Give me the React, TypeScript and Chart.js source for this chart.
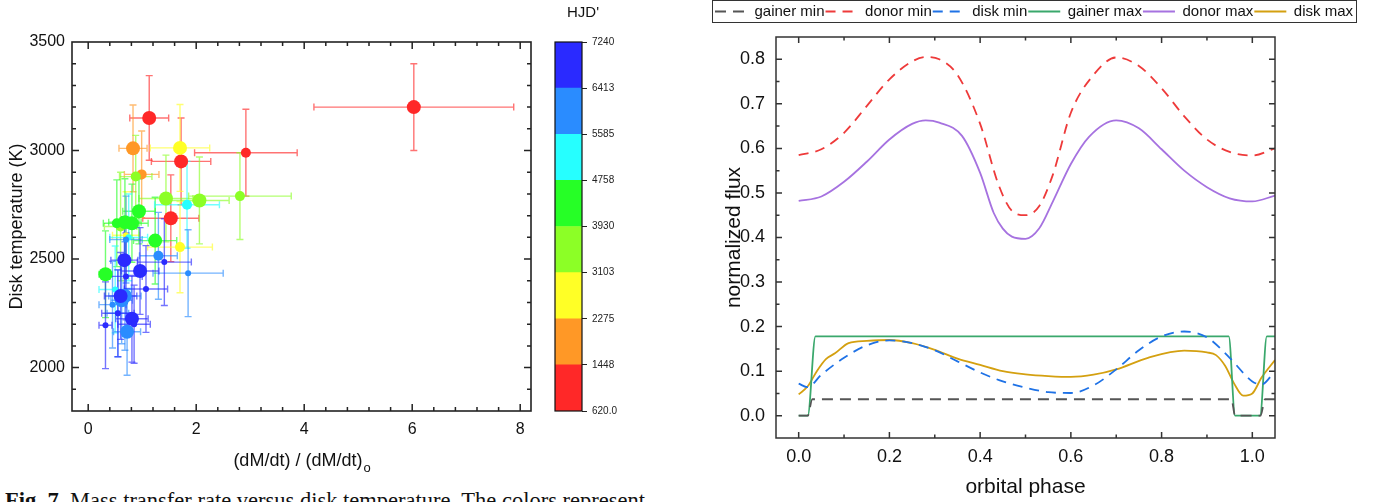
import { useEffect, useRef } from 'react';
import { Chart, registerables } from 'chart.js';

Chart.register(...registerables);

const SANS = "'Liberation Sans', Arial, Helvetica, sans-serif";
const INK = '#111111';

// ---------------- Left panel: mass transfer rate vs disk temperature ----------------
const massTransferRate = [6.03, 1.13, 2.92, 1.72, 1.53, 0.83, 0.99, 1.70, 0.70, 1.70, 1.44, 0.60, 2.06, 0.88, 2.81, 0.94, 0.81, 0.53, 0.32, 1.24, 0.68, 1.83, 0.50, 0.75, 0.68, 0.72, 0.70, 1.30, 0.45, 1.85, 0.62, 0.55, 0.55, 0.96, 0.60, 1.07, 0.67, 0.81, 0.85, 1.41, 0.32, 0.70];
const massTransferErr = [1.85, 0.36, 0.95, 0.55, 0.52, 0.26, 0.32, 0.55, 0.25, 0.60, 0.50, 0.30, 0.55, 0.30, 0.95, 0.30, 0.30, 0.25, 0.12, 0.40, 0.30, 0.60, 0.30, 0.35, 0.30, 0.25, 0.30, 0.35, 0.25, 0.65, 0.20, 0.20, 0.30, 0.35, 0.30, 0.40, 0.25, 0.30, 0.30, 0.50, 0.12, 0.30];
const diskTemperature = [3200, 3150, 2990, 2950, 2688, 3010, 2890, 3012, 2610, 2555, 2779, 2650, 2770, 2880, 2790, 2720, 2665, 2665, 2430, 2585, 2670, 2750, 2360, 2600, 2330, 2165, 2590, 2515, 2290, 2435, 2310, 2250, 2250, 2445, 2330, 2362, 2495, 2225, 2200, 2486, 2195, 2420];
const diskTemperatureErr = [200, 195, 200, 200, 200, 200, 200, 200, 200, 210, 200, 250, 200, 190, 200, 150, 180, 200, 200, 200, 200, 200, 200, 200, 250, 200, 200, 200, 200, 200, 200, 200, 200, 200, 200, 200, 200, 200, 180, 200, 200, 200];
const hjdPrime = [700, 900, 1000, 1200, 1300, 1600, 1900, 2500, 2700, 2900, 3300, 3400, 3500, 3600, 3700, 4000, 4100, 4200, 4300, 4500, 4600, 5000, 5200, 5400, 5700, 5800, 5900, 6000, 6050, 6100, 6200, 6300, 6500, 6600, 6650, 6700, 6800, 6900, 6950, 7000, 7100, 7200];
// 0 = poor, 1 = fair, 2 = good fit
const fitQuality = [2, 2, 1, 2, 2, 2, 1, 2, 0, 1, 2, 1, 2, 1, 1, 2, 2, 1, 2, 2, 2, 1, 0, 0, 2, 2, 0, 1, 0, 0, 2, 0, 0, 2, 2, 0, 2, 2, 0, 0, 0, 0];

const rateTicks = [0, 2, 4, 6, 8];
const temperatureTicks = [2000, 2500, 3000, 3500];

// Colour bar (HJD')
const hjdEdges = [620, 1448, 2275, 3103, 3930, 4758, 5585, 6413, 7240];
const hjdEdgeLabels = ['620.0', '1448', '2275', '3103', '3930', '4758', '5585', '6413', '7240'];
const binColors = ['#ff2828', '#ff9826', '#ffff26', '#8cff26', '#26ff26', '#26ffff', '#2a8cff', '#2a2aff'];

// ---------------- Right panel: light-curve components ----------------
const gainerMinPhase = [0, 0.02, 0.03, 0.954, 0.962, 1.018, 1.028, 1.05];
const gainerMinFlux = [0, 0, 0.037, 0.037, 0, 0, 0.037, 0.037];

const donorMinPhase = [0, 0.05, 0.1, 0.15, 0.2, 0.25, 0.28, 0.31, 0.35, 0.4, 0.44, 0.47, 0.5, 0.53, 0.56, 0.6, 0.65, 0.7, 0.75, 0.8, 0.85, 0.9, 0.95, 1.0, 1.05];
const donorMinFlux = [0.585, 0.598, 0.635, 0.695, 0.755, 0.795, 0.805, 0.8, 0.765, 0.655, 0.52, 0.46, 0.45, 0.47, 0.54, 0.68, 0.765, 0.804, 0.785, 0.735, 0.672, 0.62, 0.592, 0.584, 0.6];

const diskMinPhase = [0, 0.02, 0.05, 0.1, 0.15, 0.2, 0.25, 0.3, 0.35, 0.4, 0.45, 0.5, 0.55, 0.6, 0.65, 0.7, 0.75, 0.8, 0.85, 0.9, 0.95, 1.0, 1.02, 1.05];
const diskMinFlux = [0.072, 0.064, 0.092, 0.13, 0.158, 0.169, 0.163, 0.147, 0.122, 0.097, 0.077, 0.063, 0.053, 0.051, 0.068, 0.104, 0.147, 0.178, 0.189, 0.176, 0.13, 0.077, 0.07, 0.1];

const gainerMaxPhase = [0, 0.02, 0.037, 0.948, 0.962, 1.017, 1.032, 1.05];
const gainerMaxFlux = [0, 0, 0.178, 0.178, 0, 0, 0.178, 0.178];

const donorMaxPhase = [0, 0.05, 0.1, 0.15, 0.2, 0.25, 0.28, 0.31, 0.36, 0.4, 0.43, 0.45, 0.47, 0.5, 0.53, 0.56, 0.6, 0.64, 0.7, 0.75, 0.8, 0.85, 0.9, 0.95, 1.0, 1.05];
const donorMaxFlux = [0.482, 0.492, 0.525, 0.57, 0.62, 0.655, 0.663, 0.658, 0.628, 0.545, 0.455, 0.42, 0.402, 0.397, 0.42, 0.48, 0.565, 0.626, 0.663, 0.645, 0.598, 0.55, 0.513, 0.488, 0.481, 0.494];

const diskMaxPhase = [0, 0.02, 0.04, 0.06, 0.08, 0.11, 0.15, 0.2, 0.25, 0.3, 0.35, 0.4, 0.45, 0.5, 0.55, 0.6, 0.65, 0.7, 0.77, 0.85, 0.9, 0.92, 0.94, 0.96, 0.98, 1.0, 1.02, 1.05];
const diskMaxFlux = [0.048, 0.066, 0.1, 0.127, 0.14, 0.163, 0.168, 0.17, 0.163, 0.148, 0.128, 0.114, 0.1, 0.093, 0.089, 0.087, 0.092, 0.104, 0.13, 0.146, 0.142, 0.136, 0.112, 0.072, 0.045, 0.05, 0.085, 0.125];

const phaseTicks = [0, 0.2, 0.4, 0.6, 0.8, 1.0];
const fluxTicks = [0, 0.1, 0.2, 0.3, 0.4, 0.5, 0.6, 0.7, 0.8];

// ---------------- helpers ----------------
function hjdColor(h: number): string {
  for (let i = 0; i < binColors.length; i++) {
    if (h <= hjdEdges[i + 1]) return binColors[i];
  }
  return binColors[binColors.length - 1];
}

function rgba(hex: string, a: number): string {
  const n = parseInt(hex.slice(1), 16);
  return `rgba(${(n >> 16) & 255},${(n >> 8) & 255},${n & 255},${a})`;
}

const frameTicks = {
  id: 'frameTicks',
  afterDraw(chart: any, _args: any, opts: any) {
    const { ctx, chartArea: a } = chart;
    const xs = chart.scales.x;
    const ys = chart.scales.y;
    ctx.save();
    ctx.strokeStyle = opts.color || '#222';
    ctx.lineWidth = opts.lineWidth || 1.5;
    ctx.setLineDash([]);
    const major = opts.major || 6;
    const minor = opts.minor || 3.5;
    const isMajor = (scale: any, v: number) =>
      scale.ticks.some((t: any) => Math.abs(t.value - v) < 1e-7);
    ctx.beginPath();
    const k0x = Math.ceil(xs.min / opts.xStep - 1e-6);
    const k1x = Math.floor(xs.max / opts.xStep + 1e-6);
    for (let k = k0x; k <= k1x; k++) {
      const v = k * opts.xStep;
      const p = xs.getPixelForValue(v);
      if (p <= a.left + 0.5 || p >= a.right - 0.5) continue;
      const len = isMajor(xs, v) ? major : minor;
      ctx.moveTo(p, a.bottom);
      ctx.lineTo(p, a.bottom - len);
      ctx.moveTo(p, a.top);
      ctx.lineTo(p, a.top + len);
    }
    const k0y = Math.ceil(ys.min / opts.yStep - 1e-6);
    const k1y = Math.floor(ys.max / opts.yStep + 1e-6);
    for (let k = k0y; k <= k1y; k++) {
      const v = k * opts.yStep;
      const p = ys.getPixelForValue(v);
      if (p <= a.top + 0.5 || p >= a.bottom - 0.5) continue;
      const len = isMajor(ys, v) ? major : minor;
      ctx.moveTo(a.left, p);
      ctx.lineTo(a.left + len, p);
      ctx.moveTo(a.right, p);
      ctx.lineTo(a.right - len, p);
    }
    ctx.stroke();
    ctx.lineWidth = opts.frameWidth || 1.5;
    ctx.strokeRect(a.left, a.top, a.right - a.left, a.bottom - a.top);
    ctx.restore();
  },
};

const errorBars = {
  id: 'errorBars',
  beforeDatasetsDraw(chart: any) {
    const { ctx, chartArea: a } = chart;
    const xs = chart.scales.x;
    const ys = chart.scales.y;
    ctx.save();
    ctx.beginPath();
    ctx.rect(a.left, a.top, a.right - a.left, a.bottom - a.top);
    ctx.clip();
    ctx.lineWidth = 1.4;
    const cap = 3.5;
    for (let i = 0; i < massTransferRate.length; i++) {
      const col = hjdColor(hjdPrime[i]);
      ctx.strokeStyle = rgba(col, 0.65);
      const x = xs.getPixelForValue(massTransferRate[i]);
      const y = ys.getPixelForValue(diskTemperature[i]);
      const x0 = xs.getPixelForValue(massTransferRate[i] - massTransferErr[i]);
      const x1 = xs.getPixelForValue(massTransferRate[i] + massTransferErr[i]);
      const y0 = ys.getPixelForValue(diskTemperature[i] - diskTemperatureErr[i]);
      const y1 = ys.getPixelForValue(diskTemperature[i] + diskTemperatureErr[i]);
      ctx.beginPath();
      ctx.moveTo(x0, y);
      ctx.lineTo(x1, y);
      ctx.moveTo(x0, y - cap);
      ctx.lineTo(x0, y + cap);
      ctx.moveTo(x1, y - cap);
      ctx.lineTo(x1, y + cap);
      ctx.moveTo(x, y0);
      ctx.lineTo(x, y1);
      ctx.moveTo(x - cap, y0);
      ctx.lineTo(x + cap, y0);
      ctx.moveTo(x - cap, y1);
      ctx.lineTo(x + cap, y1);
      ctx.stroke();
    }
    ctx.restore();
  },
};

const subscriptTitle = {
  id: 'subscriptTitle',
  afterDraw(chart: any) {
    const { ctx, chartArea: a } = chart;
    const main = '(dM/dt) / (dM/dt)';
    const sub = 'o';
    ctx.save();
    ctx.fillStyle = INK;
    ctx.textAlign = 'left';
    ctx.textBaseline = 'alphabetic';
    ctx.font = `18px ${SANS}`;
    const w1 = ctx.measureText(main).width;
    ctx.font = `13px ${SANS}`;
    const w2 = ctx.measureText(sub).width;
    const x0 = (a.left + a.right) / 2 - (w1 + w2) / 2;
    ctx.font = `18px ${SANS}`;
    ctx.fillText(main, x0, 466);
    ctx.font = `13px ${SANS}`;
    ctx.fillText(sub, x0 + w1 + 1, 472);
    ctx.restore();
  },
};

const colorbarFrame = {
  id: 'colorbarFrame',
  afterDraw(chart: any) {
    const { ctx, chartArea: a } = chart;
    ctx.save();
    ctx.strokeStyle = '#111';
    ctx.lineWidth = 1.2;
    ctx.strokeRect(a.left, a.top, a.right - a.left, a.bottom - a.top);
    ctx.fillStyle = INK;
    ctx.font = `15px ${SANS}`;
    ctx.textAlign = 'center';
    ctx.textBaseline = 'middle';
    ctx.fillText("HJD'", a.right + 1, 13);
    ctx.restore();
  },
};

const legendFrame = {
  id: 'legendFrame',
  afterDraw(chart: any) {
    const lg = chart.legend;
    if (!lg || !lg.legendHitBoxes || !lg.legendHitBoxes.length) return;
    const hb = lg.legendHitBoxes;
    let l = Infinity, r = -Infinity, t = Infinity, b = -Infinity;
    for (const h of hb) {
      l = Math.min(l, h.left);
      r = Math.max(r, h.left + h.width);
      t = Math.min(t, h.top);
      b = Math.max(b, h.top + h.height);
    }
    const { ctx } = chart;
    ctx.save();
    ctx.strokeStyle = '#333';
    ctx.lineWidth = 1;
    ctx.setLineDash([]);
    ctx.strokeRect(Math.round(l - 3) + 0.5, Math.round(t - 4) + 0.5, Math.round(r - l + 6), Math.round(b - t + 7));
    ctx.restore();
  },
};

function makeScatter(canvas: HTMLCanvasElement) {
  const points = massTransferRate.map((x, i) => ({ x, y: diskTemperature[i] }));
  const radii = [3, 5, 7];
  return new Chart(canvas, {
    type: 'scatter',
    data: {
      datasets: [
        {
          data: points,
          pointBackgroundColor: hjdPrime.map(hjdColor),
          pointBorderWidth: 0,
          pointRadius: fitQuality.map((q) => radii[q]),
          pointHoverRadius: fitQuality.map((q) => radii[q]),
        } as any,
      ],
    },
    options: {
      animation: false,
      responsive: false,
      devicePixelRatio: 1,
      layout: { padding: { left: 0, right: 19, top: 42, bottom: 0 } },
      plugins: {
        legend: { display: false },
        tooltip: { enabled: false },
        frameTicks: { xStep: 0.4, yStep: 100, major: 7, minor: 4, color: '#222', frameWidth: 1.6 },
      } as any,
      scales: {
        x: {
          type: 'linear',
          min: -0.3,
          max: 8.2,
          afterBuildTicks: (s: any) => {
            s.ticks = rateTicks.map((v) => ({ value: v }));
          },
          afterFit: (s: any) => {
            s.height = 69;
          },
          grid: { display: false, drawTicks: false },
          border: { display: false },
          ticks: {
            autoSkip: false,
            maxRotation: 0,
            padding: 9,
            color: INK,
            font: { family: SANS, size: 16 },
            callback: (v: any) => String(v),
          },
        },
        y: {
          type: 'linear',
          min: 1800,
          max: 3500,
          afterBuildTicks: (s: any) => {
            s.ticks = temperatureTicks.map((v) => ({ value: v }));
          },
          afterFit: (s: any) => {
            s.width = 72;
          },
          grid: { display: false, drawTicks: false },
          border: { display: false },
          ticks: {
            autoSkip: false,
            padding: 7,
            color: INK,
            font: { family: SANS, size: 16 },
            callback: (v: any) => String(v),
          },
          title: {
            display: true,
            text: 'Disk temperature (K)',
            color: INK,
            font: { family: SANS, size: 18 },
            padding: { top: 6, bottom: 0 },
          },
        },
      },
    } as any,
    plugins: [errorBars, frameTicks, subscriptTitle],
  });
}

function makeColorbar(canvas: HTMLCanvasElement) {
  const datasets = binColors.map((c, i) => ({
    data: [[hjdEdges[i], hjdEdges[i + 1]]],
    backgroundColor: c,
    borderWidth: 0,
    grouped: false,
    barPercentage: 1,
    categoryPercentage: 1,
  }));
  return new Chart(canvas, {
    type: 'bar',
    data: { labels: [''], datasets: datasets as any },
    options: {
      animation: false,
      responsive: false,
      devicePixelRatio: 1,
      layout: { padding: { left: 5, right: 0, top: 42, bottom: 19 } },
      plugins: { legend: { display: false }, tooltip: { enabled: false } },
      scales: {
        x: { display: false },
        y: {
          position: 'right',
          min: 620,
          max: 7240,
          afterBuildTicks: (s: any) => {
            s.ticks = hjdEdges.map((v) => ({ value: v }));
          },
          afterFit: (s: any) => {
            s.width = 38;
          },
          grid: { display: true, drawOnChartArea: false, drawTicks: true, tickLength: 5, color: '#222', lineWidth: 1 },
          border: { display: false },
          ticks: {
            autoSkip: false,
            padding: 5,
            color: '#222',
            font: { family: SANS, size: 10 },
            callback: (_v: any, i: number) => hjdEdgeLabels[i],
          },
        },
      },
    } as any,
    plugins: [colorbarFrame],
  });
}

function makeLightCurves(canvas: HTMLCanvasElement) {
  const series = (label: string, xs: number[], ys: number[], color: string, dash: number[], width = 1.8) => ({
    label,
    data: xs.map((x, i) => ({ x, y: ys[i] })),
    borderColor: color,
    backgroundColor: color,
    borderWidth: width,
    borderDash: dash,
    pointRadius: 0,
    pointHoverRadius: 0,
    fill: false,
    cubicInterpolationMode: 'monotone',
  });
  return new Chart(canvas, {
    type: 'line',
    data: {
      datasets: [
        series('gainer min', gainerMinPhase, gainerMinFlux, '#555555', [11, 7]),
        series('donor min', donorMinPhase, donorMinFlux, '#ee3a3a', [10, 7]),
        series('disk min', diskMinPhase, diskMinFlux, '#1f72e6', [10, 7]),
        series('gainer max', gainerMaxPhase, gainerMaxFlux, '#3aa86c', []),
        series('donor max', donorMaxPhase, donorMaxFlux, '#a672e0', []),
        series('disk max', diskMaxPhase, diskMaxFlux, '#d4a010', []),
      ] as any,
    },
    options: {
      animation: false,
      responsive: false,
      devicePixelRatio: 1,
      layout: { padding: { left: 0, right: 0, top: 3, bottom: 0 } },
      plugins: {
        tooltip: { enabled: false },
        legend: {
          display: true,
          position: 'top',
          labels: {
            usePointStyle: true,
            pointStyle: 'line',
            pointStyleWidth: 32,
            padding: 1,
            color: INK,
            font: { family: SANS, size: 15 },
            generateLabels: (chart: any) =>
              chart.data.datasets.map((ds: any, i: number) => ({
                text: ds.label,
                fillStyle: 'rgba(0,0,0,0)',
                strokeStyle: ds.borderColor,
                lineWidth: ds.borderWidth,
                lineDash: ds.borderDash,
                pointStyle: 'line',
                hidden: false,
                datasetIndex: i,
                fontColor: INK,
              })),
          },
        },
        frameTicks: { xStep: 0.1, yStep: 0.05, major: 6, minor: 3.5, color: '#333', frameWidth: 1.5 },
      } as any,
      scales: {
        x: {
          type: 'linear',
          min: -0.05,
          max: 1.05,
          afterBuildTicks: (s: any) => {
            s.ticks = phaseTicks.map((v) => ({ value: v }));
          },
          afterFit: (s: any) => {
            s.height = 64;
          },
          grid: { display: false, drawTicks: false },
          border: { display: false },
          ticks: {
            autoSkip: false,
            maxRotation: 0,
            padding: 8,
            color: INK,
            font: { family: SANS, size: 18 },
            callback: (v: any) => Number(v).toFixed(1),
          },
          title: {
            display: true,
            text: 'orbital phase',
            color: INK,
            font: { family: SANS, size: 21 },
            padding: { top: 0, bottom: 2 },
          },
        },
        xTop: {
          type: 'linear',
          position: 'top',
          display: true,
          afterFit: (s: any) => {
            s.height = 8;
          },
          grid: { display: false, drawTicks: false },
          border: { display: false },
          ticks: { display: false },
        },
        y: {
          type: 'linear',
          min: -0.05,
          max: 0.85,
          afterBuildTicks: (s: any) => {
            s.ticks = fluxTicks.map((v) => ({ value: v }));
          },
          afterFit: (s: any) => {
            s.width = 84;
          },
          grid: { display: false, drawTicks: false },
          border: { display: false },
          ticks: {
            autoSkip: false,
            padding: 11,
            color: INK,
            font: { family: SANS, size: 18 },
            callback: (v: any) => Number(v).toFixed(1),
          },
          title: {
            display: true,
            text: 'normalized flux',
            color: INK,
            font: { family: SANS, size: 21 },
            padding: { top: 30, bottom: 0 },
          },
        },
        yRight: {
          type: 'linear',
          position: 'right',
          display: true,
          afterFit: (s: any) => {
            s.width = 101;
          },
          grid: { display: false, drawTicks: false },
          border: { display: false },
          ticks: { display: false },
        },
      },
    } as any,
    plugins: [frameTicks, legendFrame],
  });
}

export default function App() {
  const leftRef = useRef<HTMLCanvasElement>(null);
  const barRef = useRef<HTMLCanvasElement>(null);
  const rightRef = useRef<HTMLCanvasElement>(null);

  useEffect(() => {
    const charts: Chart[] = [];
    if (leftRef.current) charts.push(makeScatter(leftRef.current));
    if (barRef.current) charts.push(makeColorbar(barRef.current));
    if (rightRef.current) charts.push(makeLightCurves(rightRef.current));
    return () => charts.forEach((c) => c.destroy());
  }, []);

  return (
    <div style={{ position: 'fixed', left: 0, top: 0, width: 1384, height: 502, background: '#ffffff', overflow: 'hidden' }}>
      <canvas ref={leftRef} width={550} height={480} style={{ position: 'absolute', left: 0, top: 0 }} />
      <canvas ref={barRef} width={70} height={430} style={{ position: 'absolute', left: 550, top: 0 }} />
      <canvas ref={rightRef} width={684} height={502} style={{ position: 'absolute', left: 692, top: 0 }} />
      <div
        style={{
          position: 'absolute',
          left: 5,
          top: 487,
          fontFamily: "'Liberation Serif', 'Times New Roman', serif",
          fontSize: 22.5,
          lineHeight: '27px',
          whiteSpace: 'nowrap',
          color: INK,
        }}
      >
        <b>Fig. 7.</b> Mass transfer rate versus disk temperature. The colors represent
      </div>
    </div>
  );
}
